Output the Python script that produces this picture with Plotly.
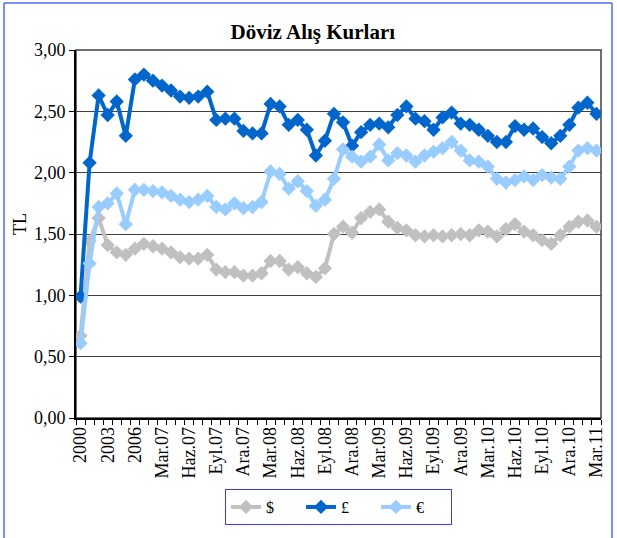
import plotly.graph_objects as go

categories = [
    "2000", "2001", "2002", "2003", "2004", "2005", "2006",
    "Oca.07", "Şub.07", "Mar.07", "Nis.07", "May.07", "Haz.07", "Tem.07", "Ağu.07", "Eyl.07", "Eki.07", "Kas.07", "Ara.07",
    "Oca.08", "Şub.08", "Mar.08", "Nis.08", "May.08", "Haz.08", "Tem.08", "Ağu.08", "Eyl.08", "Eki.08", "Kas.08", "Ara.08",
    "Oca.09", "Şub.09", "Mar.09", "Nis.09", "May.09", "Haz.09", "Tem.09", "Ağu.09", "Eyl.09", "Eki.09", "Kas.09", "Ara.09",
    "Oca.10", "Şub.10", "Mar.10", "Nis.10", "May.10", "Haz.10", "Tem.10", "Ağu.10", "Eyl.10", "Eki.10", "Kas.10", "Ara.10",
    "Oca.11", "Şub.11", "Mar.11",
]

usd = [0.67, 1.44, 1.63, 1.41, 1.35, 1.33, 1.38, 1.42, 1.40, 1.38,
       1.35, 1.31, 1.30, 1.30, 1.33, 1.21, 1.19, 1.19, 1.16, 1.16,
       1.18, 1.28, 1.28, 1.21, 1.23, 1.18, 1.15, 1.22, 1.50, 1.56,
       1.51, 1.63, 1.68, 1.70, 1.60, 1.55, 1.53, 1.49, 1.48, 1.49,
       1.48, 1.49, 1.50, 1.49, 1.53, 1.52, 1.48, 1.54, 1.58, 1.52,
       1.49, 1.45, 1.42, 1.49, 1.56, 1.60, 1.61, 1.56]

gbp = [0.99, 2.08, 2.63, 2.47, 2.58, 2.30, 2.76, 2.80, 2.75, 2.71,
       2.67, 2.62, 2.61, 2.62, 2.66, 2.43, 2.44, 2.44, 2.34, 2.32,
       2.32, 2.56, 2.54, 2.39, 2.43, 2.35, 2.14, 2.26, 2.48, 2.41,
       2.22, 2.33, 2.39, 2.40, 2.37, 2.47, 2.54, 2.44, 2.42, 2.35,
       2.45, 2.49, 2.40, 2.39, 2.35, 2.30, 2.25, 2.25, 2.38, 2.35,
       2.36, 2.29, 2.24, 2.30, 2.39, 2.53, 2.57, 2.48]

eur = [0.61, 1.26, 1.72, 1.75, 1.83, 1.58, 1.86, 1.86, 1.85, 1.84,
       1.81, 1.78, 1.76, 1.78, 1.81, 1.72, 1.70, 1.75, 1.71, 1.72,
       1.76, 2.01, 1.99, 1.87, 1.93, 1.85, 1.73, 1.78, 1.95, 2.19,
       2.13, 2.09, 2.13, 2.23, 2.10, 2.16, 2.14, 2.09, 2.14, 2.17,
       2.20, 2.25, 2.18, 2.10, 2.09, 2.05, 1.95, 1.92, 1.94, 1.97,
       1.94, 1.98, 1.96, 1.95, 2.05, 2.18, 2.20, 2.18]

series_names = ["$", "£", "€"]
series_colors = ["#C0C0C0", "#0066CC", "#99CCFF"]
tick_labels = [c if i % 3 == 0 else "" for i, c in enumerate(categories)]

FONT = "Liberation Serif, Times New Roman, serif"

fig = go.Figure()
for name, vals, col in zip(series_names, [usd, gbp, eur], series_colors):
    fig.add_trace(go.Scatter(
        x=categories, y=vals, name=name, mode="lines+markers",
        line=dict(color=col, width=4),
        marker=dict(symbol="diamond", size=11, color=col, line=dict(width=0)),
    ))

fig.update_layout(
    width=617, height=538,
    margin=dict(l=76, r=16, t=50, b=120),
    paper_bgcolor="white", plot_bgcolor="white",
    separators=",.",
    font=dict(family=FONT, size=18, color="black"),
    title=dict(text="<b>Döviz Alış Kurları</b>", x=0.507, xref="container",
               y=1 - 32 / 538, yref="container", xanchor="center", yanchor="middle",
               font=dict(family=FONT, size=21, color="black")),
    showlegend=True,
    legend=dict(orientation="h", x=0.5, xanchor="center", y=-0.242, yanchor="middle",
                bordercolor="#3A3AFF", borderwidth=1, bgcolor="white",
                font=dict(family=FONT, size=16), entrywidth=30, entrywidthmode="pixels",
                tracegroupgap=0),
)

fig.update_xaxes(
    type="category", categoryorder="array", categoryarray=categories,
    tickmode="array", tickvals=categories, ticktext=tick_labels,
    tickson="boundaries", ticks="outside", ticklen=5, tickcolor="black",
    tickangle=-90, tickfont=dict(family=FONT, size=18),
    showline=True, linecolor="black", linewidth=1.5,
    showgrid=False, zeroline=False, range=[-0.5, len(categories) - 0.5],
)

fig.update_yaxes(
    range=[0, 3], dtick=0.5, tick0=0, tickformat=".2f",
    ticks="outside", ticklen=5, tickcolor="black",
    tickfont=dict(family=FONT, size=18),
    showline=True, linecolor="black", linewidth=2,
    showgrid=True, gridcolor="#404040", gridwidth=1, zeroline=False,
)

# plot area border (top/right)
fig.add_shape(type="rect", xref="paper", yref="paper", x0=0, x1=1, y0=0, y1=1,
              line=dict(color="#404040", width=1.5), layer="below")

# outer chart border
bc = "#4A6CF0"
fig.add_shape(type="line", xref="paper", yref="paper",
              x0=(4 - 76) / 525, x1=(612 - 76) / 525, y0=(418 - 3) / 368, y1=(418 - 3) / 368,
              line=dict(color=bc, width=1.5))
fig.add_shape(type="line", xref="paper", yref="paper",
              x0=(4 - 76) / 525, x1=(4 - 76) / 525, y0=(418 - 3) / 368, y1=(418 - 538) / 368,
              line=dict(color=bc, width=1.5))
fig.add_shape(type="line", xref="paper", yref="paper",
              x0=(612 - 76) / 525, x1=(612 - 76) / 525, y0=(418 - 3) / 368, y1=(418 - 538) / 368,
              line=dict(color=bc, width=1.5))

fig.add_annotation(text="TL", xref="paper", yref="paper", x=(20 - 76) / 525, y=(418 - 224) / 368,
                   showarrow=False, textangle=-90, font=dict(family=FONT, size=18),
                   xanchor="center", yanchor="middle")

fig.write_html("out.html", config={"displayModeBar": False},
               post_script="document.body.style.margin='0';document.body.style.overflow='hidden';")
